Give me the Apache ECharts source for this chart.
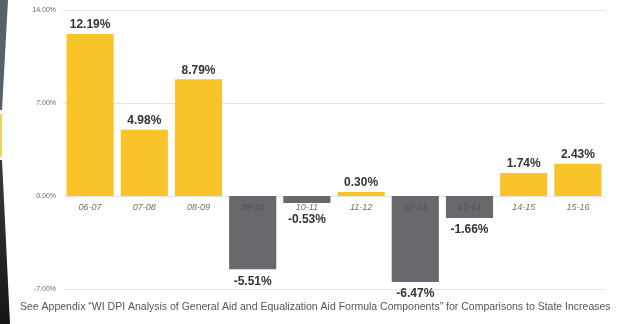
<!DOCTYPE html>
<html><head><meta charset="utf-8">
<script src="https://cdn.jsdelivr.net/npm/echarts@6/dist/echarts.min.js"></script>
<style>html,body{margin:0;padding:0;background:#fff}#c{width:618px;height:324px}</style>
</head><body><div id="c"></div>
<script>
const categories = ['06-07','07-08','08-09','09-10','10-11','11-12','12-13','13-14','14-15','15-16'];
const values = [12.19, 4.98, 8.79, -5.51, -0.53, 0.30, -6.47, -1.66, 1.74, 2.43];
const yTicks = [-7, 0, 7, 14];
const footnote = 'See Appendix \u201CWI DPI Analysis of General Aid and Equalization Aid Formula Components\u201D for Comparisons to State Increases';

const YEL = '#F8C429', GRY = '#69696D';
const chart = echarts.init(document.getElementById('c'), null, {renderer:'canvas'});
chart.setOption({
  animation:false,
  textStyle:{fontFamily:'Liberation Sans, Arial, sans-serif'},
  grid:{left:63, right:13, top:10, bottom:35, containLabel:false},
  xAxis:{type:'category', data:categories,
    axisLine:{show:false}, axisTick:{show:false}, axisLabel:{show:false}},
  yAxis:{type:'value', min:yTicks[0], max:yTicks[yTicks.length-1], interval:7,
    axisLabel:{fontSize:7, color:'#666', margin:7, formatter:v=>v.toFixed(2)+'%'},
    splitLine:{lineStyle:{color:'#e4e4e4', width:1}},
    axisLine:{show:false}, axisTick:{show:false}},
  series:[{type:'bar', barCategoryGap:'13%',
    data: values.map(v=>({value:v, itemStyle:{color: v>=0?YEL:GRY},
      label:{show:true, position: v>=0?'top':'bottom',
        distance: v>=0 ? 3 : (v>-1 ? 11 : 6),
        formatter: v.toFixed(2)+'%', fontSize:12, fontWeight:'bold', color:'#333'}}))},
    {type:'scatter', symbolSize:0, z:5, silent:true,
     data: categories.map(c=>[c,0]),
     label:{show:true, position:'bottom', distance:7, formatter:p=>p.value[0],
       fontSize:9, fontStyle:'italic', color:'#4a4a4a'}}],
  graphic:[
    {type:'text', left:20, top:302, style:{text:footnote, fontSize:10.5, fill:'#555', fontFamily:'Liberation Sans, Arial, sans-serif'}},
    {type:'polygon', shape:{points:[[0,0],[8,0],[2,110],[0,110]]}, style:{fill:'#56626b'}},
    {type:'rect', shape:{x:0,y:114,width:2,height:43}, style:{fill:'#F8D060'}},
    {type:'polygon', shape:{points:[[0,160],[2,160],[10,324],[0,324]]}, style:{fill:{type:'linear',x:0,y:0,x2:0,y2:1,colorStops:[{offset:0,color:'#3a3a3a'},{offset:1,color:'#151515'}]}}}
  ]
});
</script></body></html>
